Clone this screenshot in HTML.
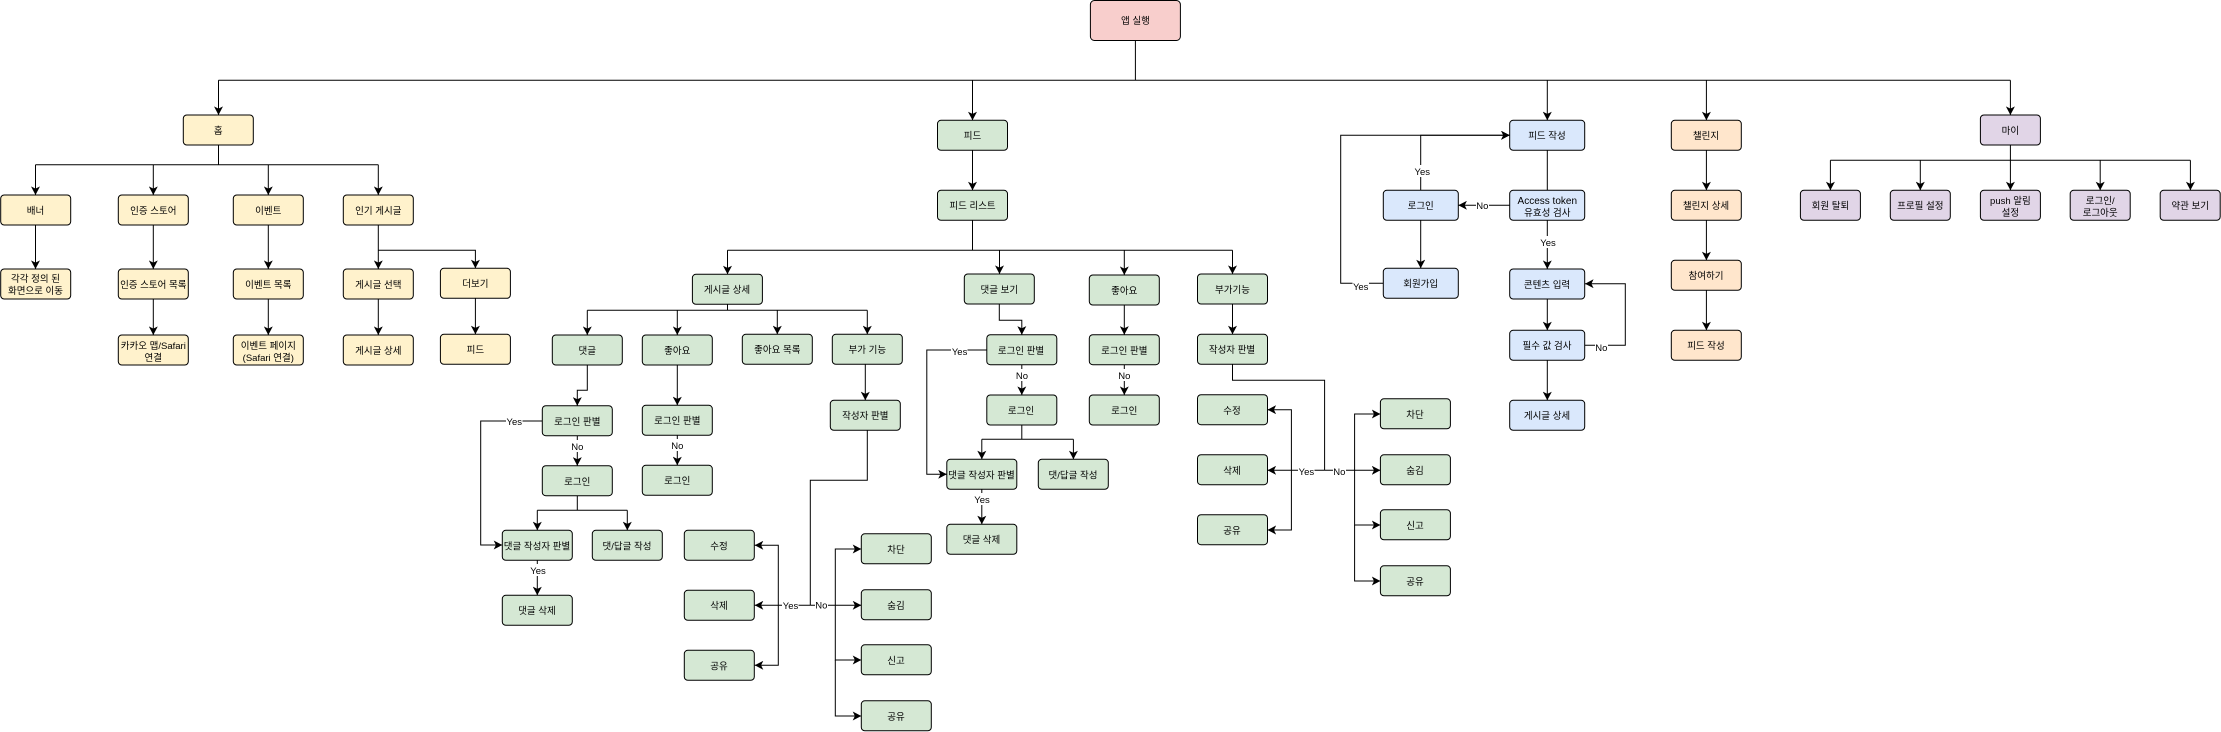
<!DOCTYPE html>
<html lang="ko"><head><meta charset="utf-8"><title>앱 실행</title>
<style>
html,body{margin:0;padding:0;background:#fff}
svg{display:block}
text{font-family:"Liberation Sans","Noto Sans CJK KR",sans-serif;font-size:9.5px;text-anchor:middle;fill:#000}
.e{font-size:9.5px}
.f{font-size:10px}
.l{fill:none;stroke:#000;stroke-width:1}
.a{marker-end:url(#h)}
rect.b{stroke:#000;stroke-width:1}
.r{fill:#f8cecc}.y{fill:#fff2cc}.g{fill:#d5e8d4}.u{fill:#dae8fc}.o{fill:#ffe6cc}.p{fill:#e1d5e7}
</style></head><body>
<svg xmlns="http://www.w3.org/2000/svg" width="2221" height="732" viewBox="0 0 2221 732">
<defs><marker id="h" markerUnits="userSpaceOnUse" markerWidth="9" markerHeight="9" refX="8.6" refY="4.5" orient="auto"><path d="M8.6 4.5L0 0L2.2 4.5L0 9Z" fill="#000"/></marker></defs>

<!-- connectors -->
<path class="l" d="M1135.4 40.5V80.3M218.5 80.3H2010.4M218.5 145V164.7M35.5 164.7H378.3M972.5 220.3V250.3M727.5 250.3H1232.5M727.5 304.3V310.3M587.3 310.3H867.3"/>
<path class="l a" d="M218.5 80.3V115"/><path class="l a" d="M972.5 80.3V120.3"/><path class="l a" d="M1547.3 80.3V120.3"/><path class="l a" d="M1706.4 80.3V120.3"/><path class="l a" d="M2010.4 80.3V115"/>
<path class="l a" d="M35.5 164.7V195"/><path class="l a" d="M153.3 164.7V195"/><path class="l a" d="M268.3 164.7V195"/><path class="l a" d="M378.3 164.7V195"/>
<path class="l a" d="M35.5 225V269"/><path class="l a" d="M153.3 225V269"/><path class="l a" d="M153.3 299V335"/><path class="l a" d="M268.3 225V269"/><path class="l a" d="M268.3 299V335"/><path class="l a" d="M378.3 225V269"/><path class="l a" d="M378.3 250.3H475.4V268.3"/><path class="l a" d="M378.3 299V335"/><path class="l a" d="M475.4 298.3V334.3"/>
<path class="l a" d="M972.5 150.3V190.3"/>
<path class="l a" d="M727.5 250.3V274.3"/><path class="l a" d="M999.5 250.3V274"/><path class="l a" d="M1124.3 250.3V275"/><path class="l a" d="M1232.5 250.3V274"/>
<path class="l a" d="M587.3 310.3V335"/><path class="l a" d="M677.3 310.3V335"/><path class="l a" d="M777.3 310.3V334.3"/><path class="l a" d="M867.3 310.3V334.3"/>
<path class="l a" d="M587.3 365V390.3H577.3V405.7"/><path class="l a" d="M677.3 365V405.3"/><path class="l a" d="M865.3 364.3V400.3"/>
<path class="l a" d="M542.3 421H480.7V545H502.3"/>
<path class="l a" d="M577.3 436V465.7"/><path class="l" d="M577.3 496V510.3M537.3 510.3H627.3"/><path class="l a" d="M537.3 510.3V530.3"/><path class="l a" d="M627.3 510.3V530.3"/>
<path class="l a" d="M537.3 560.3V595.3"/><path class="l a" d="M677.3 435.3V465.3"/>
<path class="l" d="M867.3 430.3V480.3H810.3V605.3"/>
<path class="l a" d="M810.3 605.3H754.7"/><path class="l a" d="M778.3 605.3V545.3H754.7"/><path class="l a" d="M778.3 605.3V665.3H754.7"/>
<path class="l a" d="M810.3 605.3H861.3"/><path class="l a" d="M835.3 605.3V549H861.3"/><path class="l a" d="M835.3 605.3V660H861.3"/><path class="l a" d="M835.3 660V716H861.3"/>
<path class="l a" d="M999.3 304V320.3H1021.8V334.7"/><path class="l a" d="M1124.3 305V334.7"/><path class="l a" d="M1232.5 304V334.3"/>
<path class="l a" d="M986.8 350H926.8V474.3H946.8"/>
<path class="l a" d="M1021.8 365V395"/><path class="l" d="M1021.8 425V439.3M981.8 439.3H1073.4"/><path class="l a" d="M981.8 439.3V459.3"/><path class="l a" d="M1073.4 439.3V459.3"/>
<path class="l a" d="M981.8 489.3V524.3"/><path class="l a" d="M1124.3 365V395"/>
<path class="l" d="M1232.5 364.3V380.3H1324.6V470.3"/>
<path class="l a" d="M1324.6 470.3H1267.5"/><path class="l a" d="M1291.4 470.3V409.7H1267.5"/><path class="l a" d="M1291.4 470.3V530H1267.5"/>
<path class="l a" d="M1324.6 470.3H1380.4"/><path class="l a" d="M1354.6 470.3V414H1380.4"/><path class="l a" d="M1354.6 470.3V525H1380.4"/><path class="l a" d="M1354.6 525V581H1380.4"/>
<path class="l" d="M1547.3 150.3V190.3"/>
<path class="l a" d="M1509.7 205.3H1458.3"/>
<path class="l a" d="M1420.7 190.3V135.3H1509.7"/><path class="l a" d="M1383.3 283.3H1340.7V135.3H1509.7"/>
<path class="l a" d="M1420.7 220.3V268.3"/><path class="l a" d="M1547.3 220.3V269"/><path class="l a" d="M1547.3 299V330.3"/><path class="l a" d="M1547.3 360.3V400.3"/>
<path class="l a" d="M1585 345.3H1625.3V283.7H1585"/>
<path class="l a" d="M1706.4 150.3V190.3"/><path class="l a" d="M1706.4 220.3V260.3"/><path class="l a" d="M1706.4 290.3V330.3"/>
<path class="l" d="M2010.4 145V160.3M1830.4 160.3H2190.4"/>
<path class="l a" d="M1830.4 160.3V190.3"/><path class="l a" d="M1920.3 160.3V190.3"/><path class="l a" d="M2010.4 160.3V190.3"/><path class="l a" d="M2100.2 160.3V190.3"/><path class="l a" d="M2190.4 160.3V190.3"/>

<!-- root -->
<rect class="b r" x="1090.4" y="0.5" width="90" height="40" rx="4"/><text x="1135.4" y="24">앱 실행</text>

<!-- home -->
<rect class="b y" x="183.3" y="115" width="70" height="30" rx="3.5"/><text x="218.3" y="134">홈</text>
<rect class="b y" x="0.7" y="195" width="70" height="30" rx="3.5"/><text x="35.5" y="214">배너</text>
<rect class="b y" x="118.3" y="195" width="70" height="30" rx="3.5"/><text x="153.3" y="214">인증 스토어</text>
<rect class="b y" x="233.3" y="195" width="70" height="30" rx="3.5"/><text x="268.3" y="214">이벤트</text>
<rect class="b y" x="343.3" y="195" width="70" height="30" rx="3.5"/><text x="378.3" y="214">인기 게시글</text>
<rect class="b y" x="0.7" y="269" width="70" height="30" rx="3.5"/><text x="35.5" y="282">각각 정의 된</text><text x="35.5" y="294">화면으로 이동</text>
<rect class="b y" x="118.3" y="269" width="70" height="30" rx="3.5"/><text x="153.3" y="288">인증 스토어 목록</text>
<rect class="b y" x="233.3" y="269" width="70" height="30" rx="3.5"/><text x="268.3" y="288">이벤트 목록</text>
<rect class="b y" x="343.3" y="269" width="70" height="30" rx="3.5"/><text x="378.3" y="288">게시글 선택</text>
<rect class="b y" x="440.4" y="268.3" width="70" height="30" rx="3.5"/><text x="475.4" y="287">더보기</text>
<rect class="b y" x="118.3" y="335" width="70" height="30" rx="3.5"/><text x="153.3" y="349">카카오 맵/Safari</text><text x="153.3" y="361">연결</text>
<rect class="b y" x="233.3" y="335" width="70" height="30" rx="3.5"/><text x="268.3" y="349">이벤트 페이지</text><text x="268.3" y="361">(Safari 연결)</text>
<rect class="b y" x="343.3" y="335" width="70" height="30" rx="3.5"/><text x="378.3" y="354">게시글 상세</text>
<rect class="b y" x="440.4" y="334.3" width="70" height="30" rx="3.5"/><text x="475.4" y="353">피드</text>

<!-- feed -->
<rect class="b g" x="937.5" y="120.3" width="70" height="30" rx="3.5"/><text x="972.5" y="139">피드</text>
<rect class="b g" x="937.5" y="190.3" width="70" height="30" rx="3.5"/><text x="972.5" y="209">피드 리스트</text>
<rect class="b g" x="692.4" y="274.3" width="70" height="30" rx="3.5"/><text x="727" y="293">게시글 상세</text>
<rect class="b g" x="964.3" y="274" width="70" height="30" rx="3.5"/><text x="999.3" y="293">댓글 보기</text>
<rect class="b g" x="1089.3" y="275" width="70" height="30" rx="3.5"/><text x="1124.3" y="294">좋아요</text>
<rect class="b g" x="1197.5" y="274" width="70" height="30" rx="3.5"/><text x="1232.5" y="293">부가기능</text>
<rect class="b g" x="552.3" y="335" width="70" height="30" rx="3.5"/><text x="587.3" y="354">댓글</text>
<rect class="b g" x="642.3" y="335" width="70" height="30" rx="3.5"/><text x="677.3" y="354">좋아요</text>
<rect class="b g" x="742.3" y="334.3" width="70" height="30" rx="3.5"/><text x="777.3" y="353">좋아요 목록</text>
<rect class="b g" x="832.3" y="334.3" width="70" height="30" rx="3.5"/><text x="867.3" y="353">부가 기능</text>
<rect class="b g" x="830.3" y="400.3" width="70" height="30" rx="3.5"/><text x="865.3" y="419">작성자 판별</text>
<rect class="b g" x="542.3" y="405.7" width="70" height="30" rx="3.5"/><text x="577.3" y="425">로그인 판별</text>
<rect class="b g" x="642.3" y="405.3" width="70" height="30" rx="3.5"/><text x="677.3" y="424">로그인 판별</text>
<rect class="b g" x="542.3" y="465.7" width="70" height="30" rx="3.5"/><text x="577.3" y="485">로그인</text>
<rect class="b g" x="642.3" y="465.3" width="70" height="30" rx="3.5"/><text x="677.3" y="484">로그인</text>
<rect class="b g" x="502.3" y="530.3" width="70" height="30" rx="3.5"/><text x="537" y="549.5">댓글 작성자 판별</text>
<rect class="b g" x="592.3" y="530.3" width="70" height="30" rx="3.5"/><text x="627" y="549.5">댓/답글 작성</text>
<rect class="b g" x="502.3" y="595.3" width="70" height="30" rx="3.5"/><text x="537" y="614">댓글 삭제</text>
<rect class="b g" x="684.3" y="530.3" width="70" height="30" rx="3.5"/><text x="719" y="549.5">수정</text>
<rect class="b g" x="684.3" y="590.3" width="70" height="30" rx="3.5"/><text x="719" y="609">삭제</text>
<rect class="b g" x="684.3" y="650.3" width="70" height="30" rx="3.5"/><text x="719" y="669.5">공유</text>
<rect class="b g" x="861.3" y="533.8" width="70" height="30" rx="3.5"/><text x="896" y="553">차단</text>
<rect class="b g" x="861.3" y="589.8" width="70" height="30" rx="3.5"/><text x="896" y="609">숨김</text>
<rect class="b g" x="861.3" y="644.8" width="70" height="30" rx="3.5"/><text x="896" y="664">신고</text>
<rect class="b g" x="861.3" y="700.8" width="70" height="30" rx="3.5"/><text x="896" y="720">공유</text>
<rect class="b g" x="986.8" y="334.7" width="70" height="30" rx="3.5"/><text x="1021" y="354">로그인 판별</text>
<rect class="b g" x="1089.3" y="334.7" width="70" height="30" rx="3.5"/><text x="1124.3" y="354">로그인 판별</text>
<rect class="b g" x="986.8" y="395" width="70" height="30" rx="3.5"/><text x="1021" y="414">로그인</text>
<rect class="b g" x="1089.3" y="395" width="70" height="30" rx="3.5"/><text x="1124.3" y="414">로그인</text>
<rect class="b g" x="946.8" y="459.3" width="70" height="30" rx="3.5"/><text x="981.5" y="478.5">댓글 작성자 판별</text>
<rect class="b g" x="1038.3" y="459.3" width="70" height="30" rx="3.5"/><text x="1073" y="478.5">댓/답글 작성</text>
<rect class="b g" x="946.8" y="524.3" width="70" height="30" rx="3.5"/><text x="981.5" y="543">댓글 삭제</text>
<rect class="b g" x="1197.5" y="334.3" width="70" height="30" rx="3.5"/><text x="1232" y="353">작성자 판별</text>
<rect class="b g" x="1197.5" y="394.7" width="70" height="30" rx="3.5"/><text x="1232" y="414">수정</text>
<rect class="b g" x="1197.5" y="454.7" width="70" height="30" rx="3.5"/><text x="1232" y="474">삭제</text>
<rect class="b g" x="1197.5" y="514.7" width="70" height="30" rx="3.5"/><text x="1232" y="534">공유</text>
<rect class="b g" x="1380.4" y="398.8" width="70" height="30" rx="3.5"/><text x="1415" y="418">차단</text>
<rect class="b g" x="1380.4" y="454.8" width="70" height="30" rx="3.5"/><text x="1415" y="474">숨김</text>
<rect class="b g" x="1380.4" y="509.8" width="70" height="30" rx="3.5"/><text x="1415" y="529">신고</text>
<rect class="b g" x="1380.4" y="565.8" width="70" height="30" rx="3.5"/><text x="1415" y="585">공유</text>

<!-- write -->
<rect class="b u" x="1509.7" y="120.3" width="75" height="30" rx="3.5"/><text x="1547" y="139">피드 작성</text>
<rect class="b u" x="1509.7" y="190.3" width="75" height="30" rx="3.5"/><text class="f" x="1547.3" y="204">Access token</text><text x="1547.3" y="216">유효성 검사</text>
<rect class="b u" x="1383.3" y="190.3" width="75" height="30" rx="3.5"/><text x="1420.7" y="209">로그인</text>
<rect class="b u" x="1383.3" y="268.3" width="75" height="30" rx="3.5"/><text x="1420.7" y="287">회원가입</text>
<rect class="b u" x="1509.7" y="269" width="75" height="30" rx="3.5"/><text x="1547" y="288">콘텐츠 입력</text>
<rect class="b u" x="1509.7" y="330.3" width="75" height="30" rx="3.5"/><text x="1547" y="349">필수 값 검사</text>
<rect class="b u" x="1509.7" y="400.3" width="75" height="30" rx="3.5"/><text x="1547" y="419">게시글 상세</text>

<!-- challenge -->
<rect class="b o" x="1671.3" y="120.3" width="70" height="30" rx="3.5"/><text x="1706" y="139">챌린지</text>
<rect class="b o" x="1671.3" y="190.3" width="70" height="30" rx="3.5"/><text x="1706" y="209">챌린지 상세</text>
<rect class="b o" x="1671.3" y="260.3" width="70" height="30" rx="3.5"/><text x="1706" y="279">참여하기</text>
<rect class="b o" x="1671.3" y="330.3" width="70" height="30" rx="3.5"/><text x="1706" y="349">피드 작성</text>

<!-- my -->
<rect class="b p" x="1980.4" y="115" width="60" height="30" rx="3.5"/><text x="2010.4" y="134">마이</text>
<rect class="b p" x="1800.4" y="190.3" width="60" height="30" rx="3.5"/><text x="1830.4" y="209">회원 탈퇴</text>
<rect class="b p" x="1890.3" y="190.3" width="60" height="30" rx="3.5"/><text x="1920.3" y="209">프로필 설정</text>
<rect class="b p" x="1980.4" y="190.3" width="60" height="30" rx="3.5"/><text x="2010.4" y="204">push 알림</text><text x="2010.4" y="216">설정</text>
<rect class="b p" x="2070.2" y="190.3" width="60" height="30" rx="3.5"/><text x="2100.2" y="204">로그인/</text><text x="2100.2" y="216">로그아웃</text>
<rect class="b p" x="2160.2" y="190.3" width="60" height="30" rx="3.5"/><text x="2190.2" y="209">약관 보기</text>

<!-- edge labels -->
<g fill="#fff">
<rect x="506" y="415" width="16.5" height="12"/><rect x="571" y="440" width="13" height="12"/><rect x="671" y="439" width="13" height="12"/><rect x="529.5" y="564" width="16.5" height="12"/>
<rect x="782" y="599" width="16.5" height="12"/><rect x="815" y="599" width="13" height="12"/>
<rect x="951" y="345" width="16.5" height="12"/><rect x="1015.5" y="369" width="13" height="12"/><rect x="973.5" y="493" width="16.5" height="12"/><rect x="1118" y="369" width="13" height="12"/>
<rect x="1298" y="465" width="16.5" height="12"/><rect x="1333" y="465" width="13" height="12"/>
<rect x="1414" y="165" width="16.5" height="12"/><rect x="1352.5" y="280" width="16.5" height="12"/><rect x="1476" y="199" width="13" height="12"/><rect x="1539.5" y="236" width="16.5" height="12"/><rect x="1595" y="341" width="13" height="12"/>
</g>
<text class="e" x="514.3" y="425">Yes</text><text class="e" x="577.3" y="450">No</text><text class="e" x="677.3" y="449">No</text><text class="e" x="538" y="574">Yes</text>
<text class="e" x="790.5" y="609">Yes</text><text class="e" x="821.3" y="608.5">No</text>
<text class="e" x="959.6" y="355">Yes</text><text class="e" x="1022" y="379">No</text><text class="e" x="982" y="503">Yes</text><text class="e" x="1124.3" y="379">No</text>
<text class="e" x="1306.4" y="475">Yes</text><text class="e" x="1339.3" y="475">No</text>
<text class="e" x="1422.3" y="175">Yes</text><text class="e" x="1360.7" y="290">Yes</text><text class="e" x="1482.3" y="209">No</text><text class="e" x="1548" y="246">Yes</text><text class="e" x="1601.3" y="351">No</text>
</svg>
</body></html>
